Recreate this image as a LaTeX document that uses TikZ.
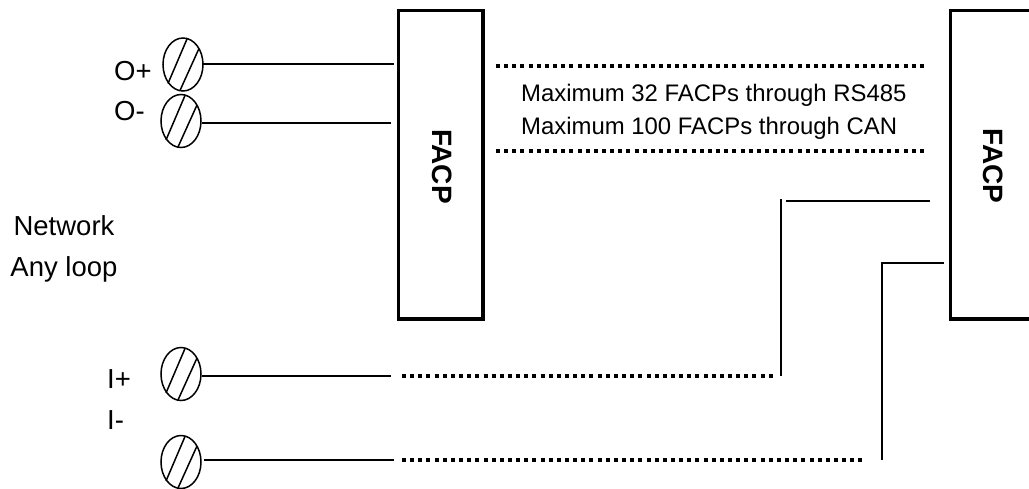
\documentclass[tikz,border=0pt]{standalone}
\usepackage{fontspec}
\setmainfont{Liberation Sans}
\usetikzlibrary{shapes.geometric,calc}
\tikzset{
  x=1pt,y=-1pt,
  box/.style={draw,line width=3.4pt,inner sep=0pt},
  term/.style={draw,ellipse,line width=1.5pt,minimum width=40pt,minimum height=53pt,inner sep=0pt},
  wire/.style={line width=1.8pt},
  dots/.style={line width=3.4pt,dash pattern=on 4pt off 4.15pt},
  lbl/.style={inner sep=0pt,font=\fontsize{27.5}{27.5}\selectfont},
  small/.style={inner sep=0pt,font=\fontsize{23.9}{23.9}\selectfont},
  facp/.style={inner sep=0pt,rotate=-90,font=\bfseries\fontsize{28}{28}\selectfont},
}
\newcommand{\termslash}[1]{%
  \draw[line width=1.5pt] ($(#1)+(4,-25.5)$) -- ($(#1)+(-15,19)$);
  \draw[line width=1.5pt] ($(#1)+(16,-16)$) -- ($(#1)+(-3,26)$);}
\begin{document}
\begin{tikzpicture}
\useasboundingbox (0,0) rectangle (1029,488);
\clip (0,0) rectangle (1029,488);
\node[term] (op) at (183,64.5) {};
\node[term] (om) at (181,121) {};
\node[term] (ip) at (181,374) {};
\node[term] (im) at (181,462) {};
\termslash{op}\termslash{om}\termslash{ip}\termslash{im}
\draw[box] (398.5,10.5) rectangle (483,319);
\draw[box] (950.5,10.5) rectangle (1040,319);
\coordinate (a1) at (394,64);
\coordinate (a2) at (391,123);
\coordinate (a3) at (391,376);
\coordinate (a4) at (394,460);
\draw[wire] (203,64) -- (a1);
\draw[wire] (om.east |- a2) -- (a2);
\draw[wire] (ip.east |- a3) -- (a3);
\draw[wire] (204,460) -- (a4);
\coordinate (d1) at (402,376); \coordinate (d1e) at (776,376);
\coordinate (d2) at (402,460); \coordinate (d2e) at (863,460);
\draw[dots] (d1) -- (d1e);
\draw[dots] (d2) -- (d2e);
\coordinate (t1) at (496,66); \coordinate (t1e) at (924,66);
\coordinate (t2) at (496,151); \coordinate (t2e) at (924,151);
\draw[dots] (t1) -- (t1e);
\draw[dots] (t2) -- (t2e);
\draw[wire] (781,376) -- (781,199);
\draw[wire] (786,201) -- (930,201);
\draw[wire] (882,460) -- (882,263) -- (944,263);
\node[lbl,anchor=base west] (lo1) at (114,80) {O+};
\node[lbl,anchor=base west] (lo2) at (114,120.5) {O-};
\node[lbl,anchor=base] (ln1) at (64,235) {Network};
\node[lbl,anchor=base] (ln2) at (64,276) {Any loop};
\node[lbl,anchor=base west] (li1) at (107,388) {I+};
\node[lbl,anchor=base west] (li2) at (107,429) {I-};
\node[small,anchor=base west] (m1) at (521,101.7) {Maximum 32 FACPs through RS485};
\node[small,anchor=base west] (m2) at (521,134) {Maximum 100 FACPs through CAN};
\node[facp] (f1) at (442,166.5) {FACP};
\node[facp] (f2) at (993,166) {FACP};
\end{tikzpicture}
\end{document}
